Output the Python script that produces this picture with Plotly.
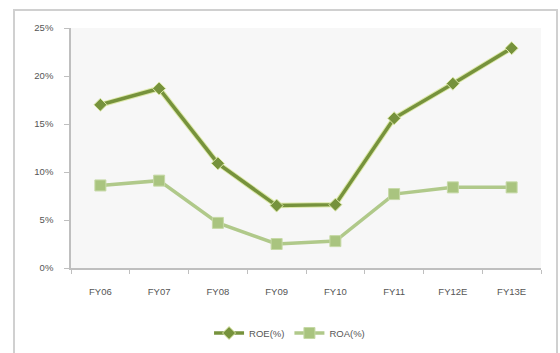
import plotly.graph_objects as go

years = ["FY06", "FY07", "FY08", "FY09", "FY10", "FY11", "FY12E", "FY13E"]
roe = [17.0, 18.7, 10.9, 6.5, 6.6, 15.6, 19.2, 22.9]
roa = [8.6, 9.1, 4.7, 2.5, 2.8, 7.7, 8.4, 8.4]
y_ticks = [0, 5, 10, 15, 20, 25]
y_tick_labels = ["0%", "5%", "10%", "15%", "20%", "25%"]

roe_color = "#76923C"
roe_glow = "#DCE8A8"
roa_color = "#B0C98A"
text_color = "#555555"
axis_color = "#BFBFBF"

fig = go.Figure()

# soft halo under the ROE line
fig.add_trace(go.Scatter(
    x=years, y=roe, mode="lines",
    line=dict(color=roe_glow, width=5.5),
    showlegend=False, hoverinfo="skip",
))
fig.add_trace(go.Scatter(
    x=years, y=roe, mode="lines+markers", name="ROE(%)",
    line=dict(color=roe_color, width=3.5),
    marker=dict(symbol="diamond", size=10, color=roe_color,
                line=dict(color=roe_glow, width=1)),
))
fig.add_trace(go.Scatter(
    x=years, y=roa, mode="lines+markers", name="ROA(%)",
    line=dict(color=roa_color, width=3.5),
    marker=dict(symbol="square", size=11, color="#A9C47F",
                line=dict(color="#C6D9A6", width=1)),
))

fig.update_layout(
    width=560, height=353,
    margin=dict(l=71, r=19, t=28, b=85, autoexpand=False),
    paper_bgcolor="white",
    plot_bgcolor="#F7F7F7",
    font=dict(family="Liberation Sans, Arial, sans-serif", size=9, color=text_color),
    legend=dict(
        orientation="h", x=0.465, xanchor="center",
        yref="container", y=(353 - 333) / 353, yanchor="middle",
        font=dict(size=9.5, color=text_color), bgcolor="rgba(0,0,0,0)",
        itemwidth=30, tracegroupgap=0,
    ),
    xaxis=dict(
        type="category", range=[-0.5, 7.5],
        showline=True, linecolor=axis_color, linewidth=1.5,
        ticks="outside", ticklen=4, tickcolor=axis_color,
        tickson="boundaries", showgrid=False, zeroline=False,
        tickfont=dict(size=9.5, color=text_color), ticklabelstandoff=14,
    ),
    yaxis=dict(
        range=[0, 25], tickvals=y_ticks, ticktext=y_tick_labels,
        showline=True, linecolor=axis_color, linewidth=1.5,
        ticks="outside", ticklen=5, tickcolor=axis_color,
        showgrid=False, zeroline=False,
        tickfont=dict(size=9.5, color=text_color), ticklabelstandoff=9,
    ),
    shapes=[
        dict(type="rect", xref="paper", yref="paper",
             x0=(14 - 71) / 470, x1=(557 - 71) / 470,
             y0=-0.5, y1=(268 - 10) / 240,
             line=dict(color="#D0D0D0", width=2), fillcolor="rgba(0,0,0,0)",
             layer="below"),
    ],
)

fig.write_html("out.html")
